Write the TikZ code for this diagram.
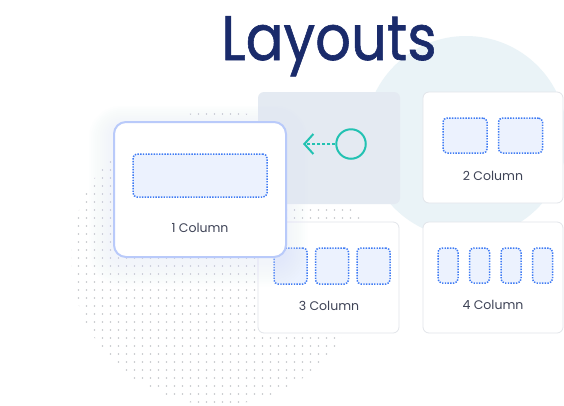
\documentclass[tikz,border=0pt]{standalone}
\usepackage{fontspec}
\setmainfont{Poppins}
\newfontfamily\titlefont{Poppins}[FakeBold=1.0]
\usetikzlibrary{arrows.meta,positioning}
\definecolor{navy}{HTML}{1A2B6B}
\definecolor{bubble}{HTML}{EAF3F7}
\definecolor{dotgrey}{HTML}{C3C5C9}
\definecolor{panelgrey}{HTML}{E4EAF2}
\definecolor{cardline}{HTML}{E2E5EA}
\definecolor{mainline}{HTML}{B9CAFA}
\definecolor{slotline}{HTML}{3F7BF4}
\definecolor{slotfill}{HTML}{ECF2FE}
\definecolor{captext}{HTML}{3E4356}
\definecolor{aqua}{HTML}{22C2B2}
\definecolor{glow}{HTML}{E2E8FA}
\tikzstyle{card} = [rectangle, draw=cardline, fill=white, line width=0.8pt,
    rounded corners=6pt, minimum width=140pt, minimum height=111pt, inner sep=0pt]
\tikzstyle{slot} = [rectangle, draw=slotline, fill=slotfill, line width=1.5pt,
    dash pattern=on 1.4pt off 1.3pt, rounded corners=4pt, inner sep=0pt]
\tikzstyle{caption} = [text=captext, font=\fontsize{12.5}{15}\selectfont, inner sep=0pt]
\tikzstyle{line} = [draw=aqua, line width=2pt, dash pattern=on 3pt off 2pt,
    -{Straight Barb[length=9pt,width=20pt]}]

\begin{document}
\begin{tikzpicture}[x=1pt, y=-1pt]
    \useasboundingbox (0,0) rectangle (564,405);
    \fill[white] (0,0) rectangle (564,405);
    % backdrop
    \fill[bubble] (466,137) circle (101pt);
    \begin{scope}
        \clip (218,258) circle (147pt);
        \foreach \i in {0,...,38}
            \foreach \j in {0,...,38}
                \fill[dotgrey] (70.5+8*\i, 106+8*\j) circle (0.8pt);
    \end{scope}

    % Place nodes
    \node [rectangle, fill=panelgrey, rounded corners=6pt, minimum width=142pt,
        minimum height=112pt] (panel) at (329,148) {};
    \node [card] (c2) at (493,147.5) {};
    \node [card, minimum width=141pt] (c3) at (328.5,277.5) {};
    \node [card] (c4) at (493,277.5) {};

    \node [slot, minimum width=44pt, minimum height=35pt] (s21) at (465,135.5) {};
    \node [slot, minimum width=44pt, minimum height=35pt, right=10pt of s21] (s22) {};
    \node [caption] (l2) at (493,176) {2 Column};

    \node [slot, minimum width=33pt, minimum height=36pt] (s31) at (290.5,266) {};
    \node [slot, minimum width=33pt, minimum height=36pt, right=7pt of s31] (s32) {};
    \node [slot, minimum width=33pt, minimum height=36pt, right=7pt of s32] (s33) {};
    \node [caption] (l3) at (329,306) {3 Column};

    \node [slot, minimum width=20pt, minimum height=35pt] (s41) at (448,265.5) {};
    \node [slot, minimum width=20pt, minimum height=35pt, right=10pt of s41] (s42) {};
    \node [slot, minimum width=20pt, minimum height=35pt, right=10pt of s42] (s43) {};
    \node [slot, minimum width=20pt, minimum height=35pt, right=10pt of s43] (s44) {};
    \node [caption] (l4) at (493,305) {4 Column};

    \node [circle, draw=aqua, line width=2pt, minimum size=29.5pt, inner sep=0pt] (knob) at (351,144) {};
    \coordinate (tip) at (303,144);

    % soft shadow of the main card
    \foreach \k in {1,...,10}
        \fill[glow, opacity=0.045, rounded corners=12pt+\k*2pt]
            (113-\k*2.2-2, 121-\k*1.8+3) rectangle (287+\k*2.2-2, 258+\k*2.4+4);
    \node [rectangle, draw=mainline, fill=white, line width=2pt, rounded corners=12pt,
        minimum width=172pt, minimum height=135pt] (c1) at (200,189.5) {};
    \node [slot, minimum width=134pt, minimum height=43pt] (s11) at (200,175.5) {};
    \node [caption] (l1) at (200,228) {1 Column};

    \node [anchor=base, text=navy, font=\titlefont\fontsize{63}{70}\selectfont, inner sep=0pt,
        xscale=0.89, transform shape] (title) at (329,60) {Layouts};

    % Draw edges
    \path [line] (knob) -- (tip);
\end{tikzpicture}
\end{document}
